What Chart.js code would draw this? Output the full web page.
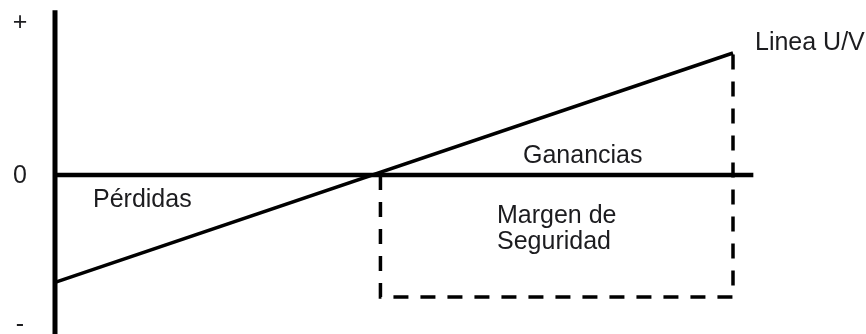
<!DOCTYPE html>
<html>
<head>
<meta charset="utf-8">
<script src="https://cdn.jsdelivr.net/npm/chart.js@4/dist/chart.umd.min.js"></script>
<style>
  html, body { margin: 0; padding: 0; background: #fff; }
  #wrap { width: 866px; height: 334px; }
</style>
</head>
<body>
<div id="wrap"><canvas id="cvp"></canvas></div>
<script>
// unidades vendidas (0 = eje vertical, 100 = ventas actuales)
const unidadesUV = [0, 100];
const utilidadUV = [-88, 100];      // linea U/V
const puntoEquilibrio = 48;         // donde U/V corta el cero
const ventasActuales = 100;
const fondoMargen = -100;           // base del rectangulo "margen de seguridad"
const ejeXLargo = [0, 103];
const ejeYLargo = [135, -135];
const ticksY = [125, 0, -122];
const ticksYTexto = ['+', '0', '-'];

const lineaUV = unidadesUV.map((u, i) => ({ x: u, y: utilidadUV[i] }));
const margen = [
  { x: puntoEquilibrio, y: 0 },
  { x: puntoEquilibrio, y: fondoMargen },
  { x: ventasActuales, y: fondoMargen },
  { x: ventasActuales, y: utilidadUV[1] }
];

const textos = {
  id: 'textos',
  afterDatasetsDraw(chart) {
    const ctx = chart.ctx;
    const xs = chart.scales.x, ys = chart.scales.y;
    ctx.save();
    ctx.fillStyle = '#1c1c1f';
    ctx.font = '25px "Liberation Sans", Arial, sans-serif';
    ctx.textBaseline = 'middle';

    // marcas del eje vertical
    ctx.textAlign = 'center';
    ticksY.forEach((v, i) => {
      ctx.fillText(ticksYTexto[i], 20, ys.getPixelForValue(v) + 1);
    });

    ctx.textAlign = 'left';
    ctx.fillText('Linea U/V', xs.getPixelForValue(ventasActuales) + 22, ys.getPixelForValue(utilidadUV[1]) - 10);
    ctx.fillText('Ganancias', 523, 156);
    ctx.fillText('Pérdidas', 93, 200);
    ctx.fillText('Margen de', 497, 216);
    ctx.fillText('Seguridad', 497, 242);
    ctx.restore();
  }
};

new Chart(document.getElementById('cvp'), {
  type: 'scatter',
  data: {
    datasets: [
      {
        label: 'Eje Y',
        data: ejeYLargo.map(v => ({ x: 0, y: v })),
        showLine: true, borderColor: '#000', borderWidth: 5, pointRadius: 0, order: 1
      },
      {
        label: 'Eje X',
        data: ejeXLargo.map(u => ({ x: u, y: 0 })),
        showLine: true, borderColor: '#000', borderWidth: 4.5, pointRadius: 0, order: 2
      },
      {
        label: 'Linea U/V',
        data: lineaUV,
        showLine: true, borderColor: '#000', borderWidth: 3.5, pointRadius: 0, order: 3
      },
      {
        label: 'Margen de Seguridad',
        data: margen,
        showLine: true, borderColor: '#000', borderWidth: 3.5, borderDash: [15, 12],
        pointRadius: 0, order: 4
      }
    ]
  },
  options: {
    responsive: true,
    maintainAspectRatio: false,
    animation: false,
    layout: { padding: 0 },
    plugins: { legend: { display: false }, tooltip: { enabled: false } },
    scales: {
      x: { type: 'linear', display: false, min: -55 / 6.78, max: 811 / 6.78 },
      y: { type: 'linear', display: false, min: -159 / 1.22, max: 175 / 1.22 }
    }
  },
  plugins: [textos]
});
</script>
</body>
</html>
